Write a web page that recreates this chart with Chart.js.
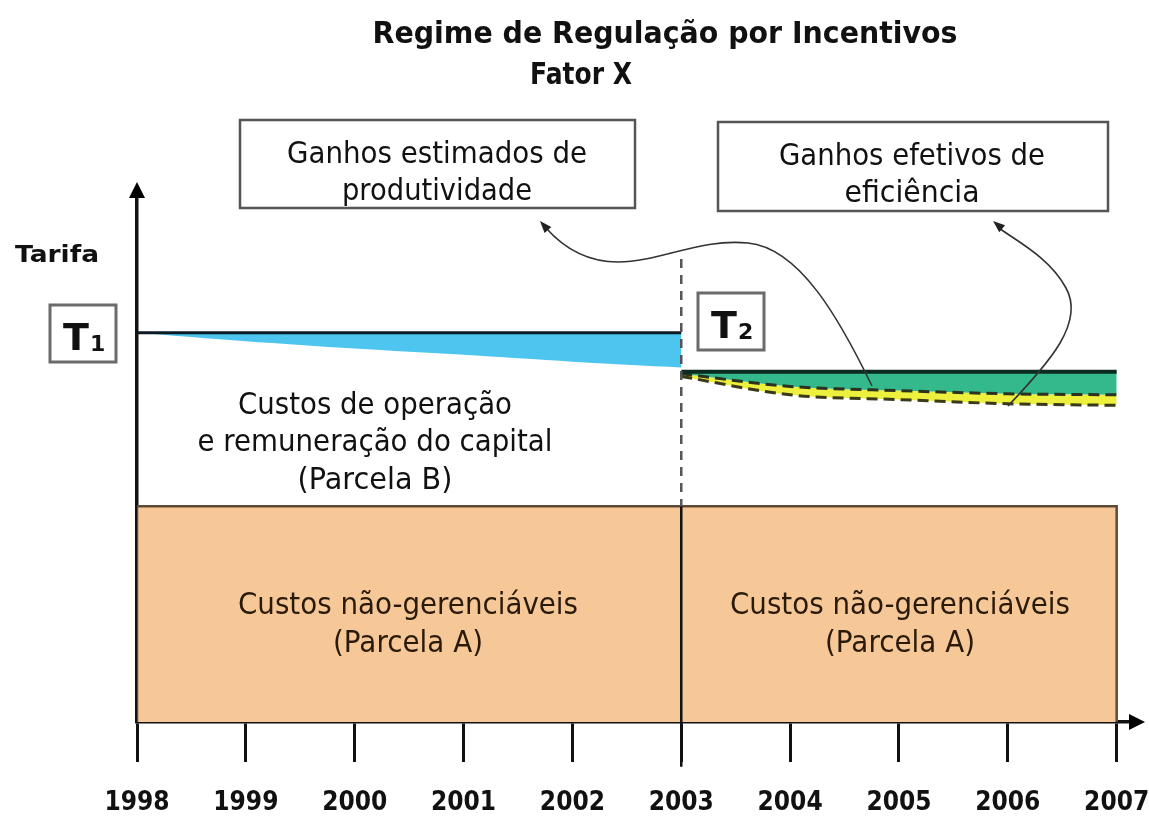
<!DOCTYPE html>
<html lang="pt">
<head>
<meta charset="utf-8">
<title>Regime de Regulação por Incentivos - Fator X</title>
<script src="https://cdn.jsdelivr.net/npm/chart.js@4.4.1/dist/chart.umd.min.js"></script>
<style>
  html, body { margin: 0; padding: 0; background: #fff; }
  #wrap { width: 1149px; height: 816px; }
</style>
</head>
<body>
<div id="wrap"><canvas id="myChart" width="1149" height="816"></canvas></div>
<script>
'use strict';

// eixo do tempo
let years = [1998, 1999, 2000, 2001, 2002, 2003, 2004, 2005, 2006, 2007];
let yearsT1 = [1998, 1999, 2000, 2001, 2002, 2003];
let yearsT2 = [2003, 2004, 2005, 2006, 2007];
let revisionYear = 2003;

// tarifa (escala 0-100, sem unidade no original)
let tarifaT1 = [74, 74, 74, 74, 74, 74];
let parcelaBT1 = [74, 72.4, 71.0, 69.8, 68.5, 67.4];
let tarifaT2 = [66.6, 66.6, 66.6, 66.6, 66.6];
let fatorX = [66.2, 63.8, 63.0, 62.4, 62.2];
let ganhoEfetivo = [65.7, 62.2, 61.3, 60.5, 60.2];
let parcelaA = 41;
let dividerTop = 88;

const FONT = '"DejaVu Sans", Verdana, sans-serif';
const COND = '"DejaVu Sans Condensed", "DejaVu Sans", sans-serif';

function pts(xs, ys) {
  return xs.map((x, i) => ({ x: x, y: ys[i] }));
}

function fitText(ctx, txt, cx, base, size, bold, w, color) {
  ctx.save();
  ctx.font = (bold ? 'bold ' : '') + size + 'px ' + FONT;
  let m = ctx.measureText(txt).width;
  ctx.translate(cx, base);
  ctx.scale(w / m, 1);
  ctx.textAlign = 'center';
  ctx.textBaseline = 'alphabetic';
  ctx.fillStyle = color || '#111';
  ctx.fillText(txt, 0, 0);
  ctx.restore();
}

function arrowHead(ctx, x, y, ang, len, half) {
  ctx.beginPath();
  ctx.moveTo(x, y);
  ctx.lineTo(x - len * Math.cos(ang) + half * Math.sin(ang), y - len * Math.sin(ang) - half * Math.cos(ang));
  ctx.lineTo(x - len * Math.cos(ang) - half * Math.sin(ang), y - len * Math.sin(ang) + half * Math.cos(ang));
  ctx.closePath();
  ctx.fill();
}

function tBox(ctx, x, y, w, h, sub) {
  ctx.save();
  ctx.fillStyle = '#fff';
  ctx.fillRect(x, y, w, h);
  ctx.strokeStyle = '#6b6b6b';
  ctx.lineWidth = 3;
  ctx.strokeRect(x, y, w, h);
  ctx.fillStyle = '#111';
  ctx.textBaseline = 'alphabetic';
  ctx.textAlign = 'left';
  ctx.font = 'bold 38px ' + FONT;
  ctx.fillText('T', x + 13, y + 45);
  ctx.font = 'bold 22px ' + FONT;
  ctx.fillText(sub, x + 40, y + 46);
  ctx.restore();
}

const decor = {
  id: 'decor',
  afterDraw(chart) {
    const ctx = chart.ctx;
    const a = chart.chartArea;

    // setas dos eixos
    ctx.save();
    ctx.fillStyle = '#000';
    arrowHead(ctx, a.left, a.top - 14, -Math.PI / 2, 16, 8);
    arrowHead(ctx, a.right + 12, a.bottom, 0, 16, 8);
    ctx.restore();

    // títulos
    fitText(ctx, 'Regime de Regulação por Incentivos', 665, 43, 31, true, 585);
    fitText(ctx, 'Fator X', 581, 84, 31, true, 102);
    fitText(ctx, 'Tarifa', 57, 262, 23, true, 84);

    // caixas de texto
    ctx.save();
    ctx.strokeStyle = '#555';
    ctx.lineWidth = 2.5;
    ctx.strokeRect(240, 120, 395, 88);
    ctx.strokeRect(718, 122, 390, 89);
    ctx.restore();
    fitText(ctx, 'Ganhos estimados de', 437, 163, 30, false, 300);
    fitText(ctx, 'produtividade', 437, 200, 30, false, 190);
    fitText(ctx, 'Ganhos efetivos de', 912, 165, 30, false, 266);
    fitText(ctx, 'eficiência', 912, 202, 30, false, 135);

    // T1 / T2
    tBox(ctx, 50, 305, 66, 57, '1');
    tBox(ctx, 698, 293, 66, 57, '2');

    // textos das parcelas
    fitText(ctx, 'Custos de operação', 375, 414, 30, false, 274);
    fitText(ctx, 'e remuneração do capital', 375, 451, 30, false, 355);
    fitText(ctx, '(Parcela B)', 375, 489, 30, false, 155);
    fitText(ctx, 'Custos não-gerenciáveis', 408, 614, 30, false, 340, '#2a1a0a');
    fitText(ctx, '(Parcela A)', 408, 652, 30, false, 150, '#2a1a0a');
    fitText(ctx, 'Custos não-gerenciáveis', 900, 614, 30, false, 340, '#2a1a0a');
    fitText(ctx, '(Parcela A)', 900, 652, 30, false, 150, '#2a1a0a');

    // setas curvas
    ctx.save();
    ctx.strokeStyle = '#333';
    ctx.fillStyle = '#222';
    ctx.lineWidth = 1.6;
    ctx.beginPath();
    ctx.moveTo(872, 386);
    ctx.bezierCurveTo(840, 320, 800, 248, 748, 243);
    ctx.bezierCurveTo(700, 238, 660, 262, 618, 262);
    ctx.bezierCurveTo(585, 262, 562, 246, 546, 228);
    ctx.stroke();
    arrowHead(ctx, 540, 221, Math.atan2(221 - 246, 540 - 562), 12, 4.5);

    ctx.beginPath();
    ctx.moveTo(1008, 406);
    ctx.bezierCurveTo(1050, 362, 1085, 322, 1066, 288);
    ctx.bezierCurveTo(1050, 258, 1018, 242, 999, 228);
    ctx.stroke();
    arrowHead(ctx, 993, 221, Math.atan2(221 - 242, 993 - 1018), 12, 4.5);
    ctx.restore();
  }
};

let ctx = document.getElementById('myChart').getContext('2d');
let myChart = new Chart(ctx, {
  type: 'line',
  data: {
    datasets: [
      {
        label: 'Tarifa T1',
        data: pts(yearsT1, tarifaT1),
        borderColor: '#0d1a26',
        borderWidth: 3,
        pointRadius: 0,
        fill: false,
        order: 1
      }, {
        label: 'Parcela B (T1)',
        data: pts(yearsT1, parcelaBT1),
        borderColor: 'rgba(0,0,0,0)',
        borderWidth: 0,
        backgroundColor: '#4ec5ee',
        tension: 0.3,
        pointRadius: 0,
        fill: 0,
        order: 5
      }, {
        label: 'Tarifa T2',
        data: pts(yearsT2, tarifaT2),
        borderColor: '#0b2a20',
        borderWidth: 4,
        pointRadius: 0,
        fill: false,
        order: 1
      }, {
        label: 'Ganhos estimados (Fator X)',
        data: pts(yearsT2, fatorX),
        borderColor: '#2b3320',
        borderWidth: 3,
        borderDash: [11, 6],
        backgroundColor: '#33b98b',
        cubicInterpolationMode: 'monotone',
        pointRadius: 0,
        fill: 2,
        order: 3
      }, {
        label: 'Ganhos efetivos',
        data: pts(yearsT2, ganhoEfetivo),
        borderColor: '#3a3a18',
        borderWidth: 3,
        borderDash: [11, 6],
        backgroundColor: '#eef03e',
        cubicInterpolationMode: 'monotone',
        pointRadius: 0,
        fill: 3,
        order: 4
      }, {
        label: 'Parcela A',
        data: [
          { x: years[0], y: 0 }, { x: years[0], y: parcelaA },
          { x: years[years.length - 1], y: parcelaA }, { x: years[years.length - 1], y: 0 }
        ],
        borderColor: '#5e4a36',
        borderWidth: 2.5,
        backgroundColor: '#f6c898',
        pointRadius: 0,
        fill: 'origin',
        order: 9
      }, {
        label: 'Revisão (tracejado)',
        data: [{ x: revisionYear, y: dividerTop }, { x: revisionYear, y: parcelaA }],
        borderColor: '#555',
        borderWidth: 2.5,
        borderDash: [9, 7],
        pointRadius: 0,
        fill: false,
        order: 0
      }, {
        label: 'Revisão',
        data: [{ x: revisionYear, y: parcelaA }, { x: revisionYear, y: -8.5 }],
        borderColor: '#111',
        borderWidth: 2.5,
        pointRadius: [0, 7],
        pointStyle: 'triangle',
        rotation: 180,
        pointBackgroundColor: '#111',
        pointBorderColor: '#111',
        fill: false,
        clip: false,
        order: 0
      }
    ]
  },
  options: {
    responsive: false,
    devicePixelRatio: 1,
    animation: false,
    layout: { padding: { left: 137, right: 16, top: 196, bottom: 0 } },
    plugins: {
      legend: { display: false },
      tooltip: { enabled: false },
      title: { display: false }
    },
    scales: {
      x: {
        type: 'linear',
        min: 1998,
        max: 2007.15,
        z: 1,
        afterBuildTicks: (scale) => {
          scale.ticks = years.map(v => ({ value: v }));
        },
        afterFit: (scale) => {
          scale.height = 94;
          scale.paddingLeft = 0;
          scale.paddingRight = 0;
        },
        grid: {
          drawOnChartArea: false,
          drawTicks: true,
          tickLength: 40,
          color: '#111',
          lineWidth: 3
        },
        border: { display: true, color: '#111', width: 3.5 },
        ticks: {
          autoSkip: false,
          maxRotation: 0,
          padding: 26,
          color: '#111',
          font: { family: COND, size: 26, weight: 'bold' },
          callback: (v) => String(v)
        }
      },
      y: {
        min: 0,
        max: 100,
        z: 1,
        grid: { display: false, drawTicks: false },
        border: { display: true, color: '#111', width: 3.5 },
        ticks: { display: false }
      }
    }
  },
  plugins: [decor]
});
</script>
</body>
</html>
